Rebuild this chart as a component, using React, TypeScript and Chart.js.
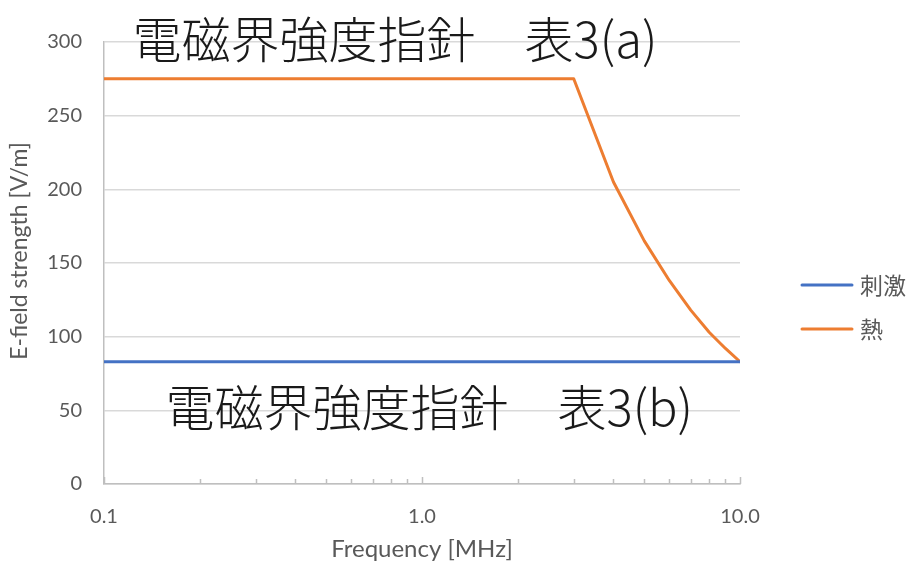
import React, { useEffect, useRef } from "react";
import { Chart, registerables } from "chart.js";

Chart.register(...registerables);

const stimulusFreq = [0.1, 10];
const stimulusValues = [83, 83];
const thermalFreq = [0.1, 3, 4, 5, 6, 7, 8, 9, 10];
const thermalValues = [275, 275, 205, 165, 138, 118, 103, 92, 83];
const xTickValues = [0.1, 0.2, 0.3, 0.4, 0.5, 0.6, 0.7, 0.8, 0.9, 1, 2, 3, 4, 5, 6, 7, 8, 9, 10];
const xMajorTicks = [0.1, 1, 10];
const seriesNames = ["刺激", "熱"];
const seriesColors = ["#4472C4", "#ED7D31"];
const noteTexts = ["電磁界強度指針　表3(a)", "電磁界強度指針　表3(b)"];
const noteAnchors = [
  { x: 0.123, y: 302 },
  { x: 0.156, y: 52 },
];
const yTitle = "E-field strength [V/m]";
const xTitle = "Frequency [MHz]";

const GRAY = "#595959";
const AXIS_FONT = "Lato, 'Open Sans', sans-serif";
const CJK_FONT = "'Noto Sans CJK JP', 'Noto Sans', sans-serif";

const annotationPlugin = {
  id: "notes",
  afterDatasetsDraw(chart: any) {
    const { ctx, scales, chartArea } = chart;
    const xs = scales.x;
    const ys = scales.y;
    ctx.save();
    // inward tick marks on x axis
    const bottom = chartArea.bottom;
    ctx.strokeStyle = "#bfbfbf";
    ctx.lineWidth = 1.5;
    xTickValues.forEach((v) => {
      const px = Math.round(xs.getPixelForValue(v)) + 0.5;
      const len = xMajorTicks.includes(v) ? 7 : 5;
      ctx.beginPath();
      ctx.moveTo(px, bottom);
      ctx.lineTo(px, bottom - len);
      ctx.stroke();
    });
    // text notes
    ctx.fillStyle = "#1a1a1a";
    ctx.font = `300 49px ${CJK_FONT}`;
    ctx.textBaseline = "middle";
    ctx.textAlign = "left";
    noteTexts.forEach((t, i) => {
      const a = noteAnchors[i];
      ctx.fillText(t, xs.getPixelForValue(a.x), ys.getPixelForValue(a.y));
    });
    // y axis title
    const midY = (chartArea.top + chartArea.bottom) / 2;
    ctx.fillStyle = GRAY;
    ctx.font = `23px ${AXIS_FONT}`;
    ctx.textAlign = "center";
    ctx.save();
    ctx.translate(chartArea.left - 84, midY - 12);
    ctx.rotate(-Math.PI / 2);
    ctx.fillText(yTitle, 0, 0);
    ctx.restore();
    // legend
    ctx.font = `23px ${CJK_FONT}`;
    ctx.textAlign = "left";
    const lx = chartArea.right + 62;
    chart.data.datasets.forEach((ds: any, i: number) => {
      const y = midY + 44 + (i - 0.5) * 44;
      ctx.strokeStyle = ds.borderColor;
      ctx.lineWidth = 3;
      ctx.lineCap = "round";
      ctx.beginPath();
      ctx.moveTo(lx, y);
      ctx.lineTo(lx + 50, y);
      ctx.stroke();
      ctx.fillStyle = GRAY;
      ctx.fillText(ds.label, lx + 58, y);
    });
    ctx.restore();
  },
};

export default function App() {
  const ref = useRef<HTMLCanvasElement | null>(null);
  useEffect(() => {
    document.body.style.margin = "0";
    const canvas = ref.current;
    if (!canvas) return;
    const chart = new Chart(canvas, {
      type: "line",
      data: {
        datasets: [
          {
            label: seriesNames[0],
            data: stimulusFreq.map((f, i) => ({ x: f, y: stimulusValues[i] })),
            borderColor: seriesColors[0],
            backgroundColor: seriesColors[0],
            borderWidth: 3,
            pointRadius: 0,
            tension: 0,
            borderCapStyle: "round",
          },
          {
            label: seriesNames[1],
            data: thermalFreq.map((f, i) => ({ x: f, y: thermalValues[i] })),
            borderColor: seriesColors[1],
            backgroundColor: seriesColors[1],
            borderWidth: 3,
            pointRadius: 0,
            tension: 0,
            borderCapStyle: "round",
            borderJoinStyle: "round",
          },
        ],
      },
      options: {
        animation: false,
        responsive: true,
        maintainAspectRatio: false,
        layout: { padding: { top: 42, left: 47, right: 171, bottom: 0 } },
        plugins: {
          legend: { display: false },
          tooltip: { enabled: false },
        },
        scales: {
          x: {
            type: "logarithmic",
            min: 0.1,
            max: 10,
            afterBuildTicks: (scale: any) => {
              scale.ticks = xTickValues.map((v) => ({ value: v, major: xMajorTicks.includes(v) }));
            },
            afterFit: (scale: any) => {
              scale.height = 82;
            },
            ticks: {
              autoSkip: false,
              maxRotation: 0,
              color: GRAY,
              font: { family: AXIS_FONT, size: 20 },
              padding: 21,
              callback: (v: any) => (xMajorTicks.includes(Number(v)) ? Number(v).toFixed(1) : ""),
            },
            grid: { display: false, drawTicks: false },
            border: { display: true, color: "#bfbfbf", width: 1.5 },
            title: {
              display: true,
              text: xTitle,
              color: GRAY,
              font: { family: AXIS_FONT, size: 24 },
              padding: { top: 0, bottom: 2 },
            },
          },
          y: {
            min: 0,
            max: 300,
            afterFit: (scale: any) => {
              scale.width = 57;
            },
            ticks: {
              stepSize: 50,
              color: GRAY,
              font: { family: AXIS_FONT, size: 20 },
              padding: 22,
            },
            grid: { color: "#d9d9d9", lineWidth: 1.5, drawTicks: false },
            border: { display: true, color: "#bfbfbf", width: 1.5 },
          },
        },
      },
      plugins: [annotationPlugin],
    } as any);
    return () => chart.destroy();
  }, []);
  return (
    <div style={{ width: 911, height: 566, position: "relative" }}>
      <canvas ref={ref} />
    </div>
  );
}
